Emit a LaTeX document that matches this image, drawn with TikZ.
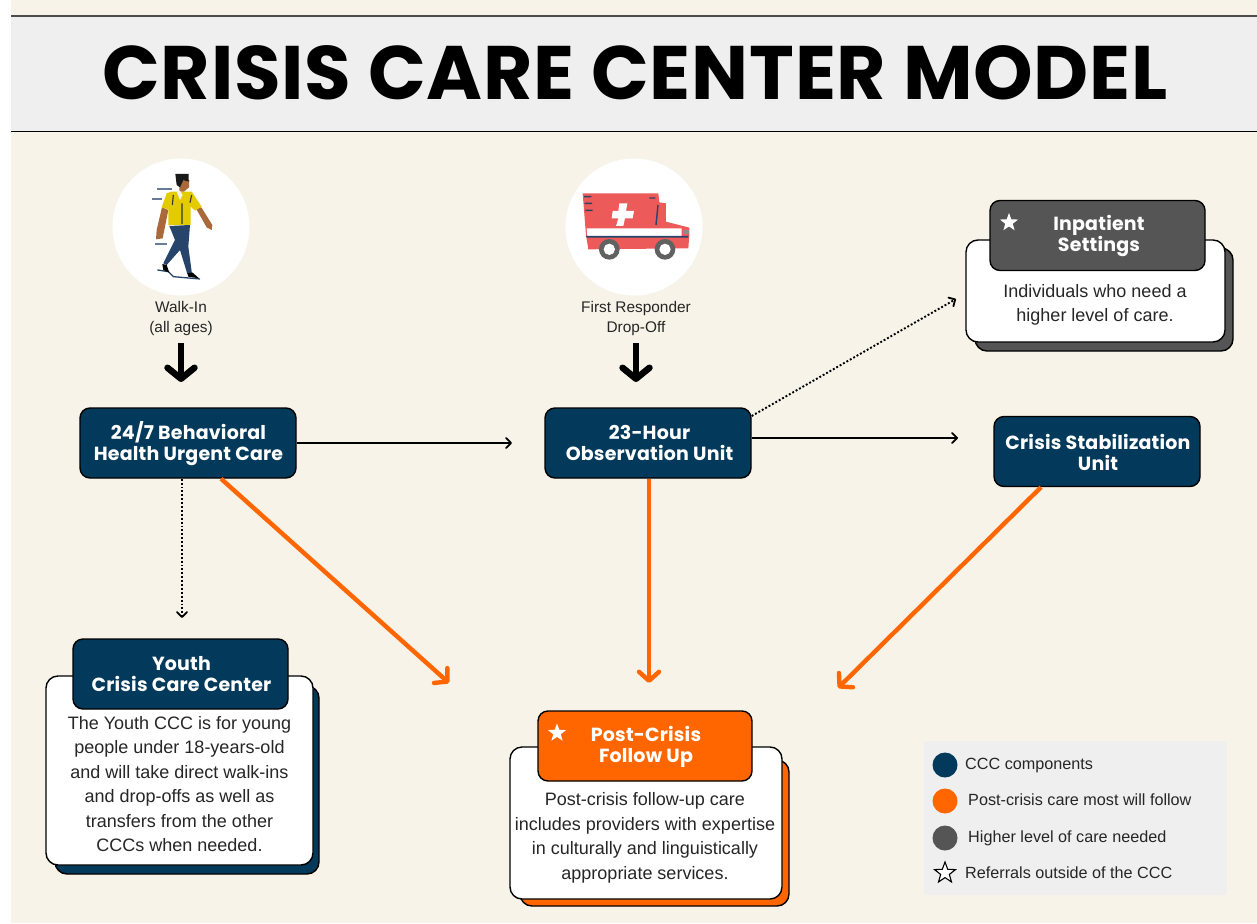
\documentclass[tikz,border=0pt]{standalone}
\usepackage{fontspec}
\setmainfont{Liberation Sans}
\newfontfamily\headfont{Poppins}[LetterSpace=1.0]
\usetikzlibrary{arrows.meta, shapes.geometric}
\definecolor{cream}{HTML}{F7F3E8}
\definecolor{panel}{HTML}{EFEFEF}
\definecolor{navy}{HTML}{03395A}
\definecolor{carrot}{HTML}{FF6600}
\definecolor{slate}{HTML}{555555}
\definecolor{coral}{HTML}{EC5A5A}
\definecolor{shirt}{HTML}{E3CB00}
\definecolor{denim}{HTML}{27446B}
\definecolor{skin}{HTML}{A9693A}
\tikzset{
>={Straight Barb[length=5pt,width=10pt,line width=1.8pt,round]}, % open arrow heads
every node/.style={inner sep=0pt},
headbox/.style={draw=black, line width=1.4pt, rounded corners=10pt, minimum width=#1, minimum height=70pt},
headtext/.style={text=white, align=center, font=\headfont\bfseries\fontsize{19}{21}\selectfont},
cardbox/.style={draw=black, line width=1.4pt, rounded corners=12pt, fill=white, minimum width=#1},
bodytext/.style={align=center, text=black!85, font=\fontsize{18}{24.5}\selectfont},
smalltext/.style={align=center, text=black!85, font=\fontsize{15.4}{20.5}\selectfont},
legendtext/.style={anchor=base west, text=black!85, font=\fontsize{16.2}{18}\selectfont},
legenddot/.style={circle, minimum size=25pt, fill=#1},
starmark/.style={star, star points=5, star point ratio=2.4, minimum size=19pt, fill=white},
plainline/.style={->, line width=1.9pt, black},
dotline/.style={->, line width=1.9pt, black, dash pattern=on 1.9pt off 2pt},
bigline/.style={-{Straight Barb[length=11pt,width=27pt,line width=6.5pt,round]}, line width=6.5pt, black},
careline/.style={-{Straight Barb[length=9pt,width=20pt,line width=4.4pt,round]}, line width=4.4pt, carrot},
}
\begin{document}
\begin{tikzpicture}[x=1pt, y=-1pt]
\useasboundingbox (0,0) rectangle (1257,923);
\fill[white] (0,0) rectangle (1257,923);
\fill[cream] (11,0) rectangle (1257,923);

% title band
\fill[panel] (11,16) rectangle (1257,131);
\draw[line width=1.4pt, black!70] (11,16) -- (1257,16);
\draw[line width=1pt, black] (11,131) -- (1257,131);
\node[font=\headfont\bfseries\fontsize{75.8}{80}\selectfont, text=black] (title) at (635,73) {CRISIS CARE CENTER MODEL};

% intake pictures
\node[circle, fill=white, minimum size=137pt] (walkpic) at (181,227) {};
\node[circle, fill=white, minimum size=137pt] (ambpic) at (634,227) {};

% person walking
\begin{scope}[shift={(100,150)}, x=0.3333pt, y=-0.3333pt]
\draw[denim!70, line width=1.2pt] (172,117) -- (215,117) (155,147) -- (185,147) (165,282) -- (200,282);
\draw[denim, line width=1.3pt] (172,360) -- (205,365) -- (220,380) -- (300,387);
\fill[skin] (186,172) -- (205,180) -- (188,265) -- (168,268) -- (170,240) -- cycle;
\fill[skin] (286,172) -- (304,172) -- (337,225) -- (335,240) -- (320,232) -- cycle;
\fill[denim] (208,228) -- (270,225) -- (265,290) -- (276,372) -- (262,372) -- (240,300) -- (200,345) -- (190,340) -- (225,270) -- cycle;
\fill[black] (187,342) -- (200,345) -- (208,368) -- (190,360) -- cycle;
\fill[black] (262,370) -- (278,368) -- (297,385) -- (265,380) -- cycle;
\fill[shirt] (215,125) -- (275,125) -- (305,170) -- (285,182) -- (272,170) -- (272,225) -- (205,225) -- (205,178) -- (185,172) -- (200,130) -- cycle;
\draw[black!80, line width=1.1pt] (246,160) -- (246,222) (220,135) -- (217,165) (275,135) -- (270,158);
\fill[skin] (232,90) -- (268,90) -- (267,112) -- (252,125) -- (238,125) -- (238,108) -- cycle;
\fill[black!90] (226,72) -- (266,72) -- (266,95) -- (250,90) -- (240,112) -- (230,105) -- cycle;
\fill[cream] (230,125) -- (240,122) -- (248,135) -- (240,150) -- cycle;
\end{scope}

% ambulance
\begin{scope}[shift={(550,150)}, x=0.3333pt, y=-0.3333pt]
\fill[coral] (98,130) -- (325,130) -- (328,157) -- (348,160) -- (348,215) -- (418,233) -- (418,255) -- (415,295) -- (115,298) -- (108,255) -- cycle;
\fill[white] (110,235) -- (395,235) -- (395,258) -- (112,258) -- cycle;
\fill[denim] (108,258) -- (415,258) -- (415,263) -- (110,263) -- cycle;
\fill[white] (208,160) -- (232,160) -- (228,183) -- (252,183) -- (248,205) -- (225,205) -- (220,228) -- (198,228) -- (205,205) -- (185,205) -- (188,183) -- (205,183) -- cycle;
\draw[denim, line width=1.4pt] (102,140) -- (124,140) (104,160) -- (126,160) (106,181) -- (128,181) (298,144) -- (316,144) (324,165) -- (318,225);
\fill[black!62] (178,298) circle (31);
\fill[black!62] (345,298) circle (31);
\fill[white] (178,298) circle (17);
\fill[white] (345,298) circle (17);
\fill[black!45] (398,240) rectangle (418,252);
\end{scope}

\node[smalltext] (walkin) at (181,318.5) {Walk-In\\(all ages)};
\node[smalltext] (dropoff) at (636,318.5) {First Responder\\Drop-Off};

% main boxes
\node[headbox=216pt, fill=navy] (urgent) at (188,443) {};
\node[headtext] (urgenttext) at (188.5,444) {24/7 Behavioral\\Health Urgent Care};
\node[headbox=206pt, fill=navy] (observe) at (648,443) {};
\node[headtext] (observetext) at (649.5,443) {23-Hour\\Observation Unit};
\node[headbox=206pt, fill=navy] (stabil) at (1097,451.5) {};
\node[headtext] (stabiltext) at (1098,452) {Crisis Stabilization\\Unit};

% inpatient card
\node[cardbox=258pt, fill=slate, minimum height=103pt] (inshadow) at (1104,299.5) {};
\node[cardbox=259pt, minimum height=102pt] (incard) at (1095.5,291) {};
\node[headbox=215pt, fill=slate] (inhead) at (1097.5,235.5) {};
\node[headtext] (inheadtext) at (1099,236) {Inpatient\\Settings};
\node[starmark] (instar) at (1009,222.5) {};
\node[bodytext] (intext) at (1095,305) {Individuals who need a\\higher level of care.};

% youth card
\node[cardbox=264pt, fill=navy, minimum height=188pt] (youthshadow) at (187,780) {};
\node[cardbox=267pt, minimum height=189pt] (youthcard) at (179.5,770.5) {};
\node[headbox=215pt, fill=navy] (youthhead) at (180.5,674) {};
\node[headtext] (youthheadtext) at (181.5,674) {Youth\\Crisis Care Center};
\node[bodytext] (youthtext) at (179.5,784) {The Youth CCC is for young\\people under 18-years-old\\and will take direct walk-ins\\and drop-offs as well as\\transfers from the other\\CCCs when needed.};

% follow up card
\node[cardbox=269pt, fill=carrot, minimum height=146pt] (postshadow) at (654.5,833) {};
\node[cardbox=272pt, minimum height=152pt] (postcard) at (646,823) {};
\node[headbox=214pt, fill=carrot] (posthead) at (645,746) {};
\node[headtext] (postheadtext) at (646,747) {Post-Crisis\\Follow Up};
\node[starmark] (poststar) at (557,733) {};
\node[bodytext] (posttext) at (645,838) {Post-crisis follow-up care\\includes providers with expertise\\in culturally and linguistically\\appropriate services.};

% arrow targets
\coordinate (walkfoot) at (181,343);
\coordinate (walkhead) at (181,382);
\coordinate (dropfoot) at (636,343);
\coordinate (drophead) at (636,382);
\coordinate (midstop) at (512,443);
\coordinate (csustop) at (958,438);
\coordinate (instop) at (956,299);
\coordinate (youthstop) at (182,618);
\coordinate (postleft) at (449,683);
\coordinate (postmid) at (649,683);
\coordinate (postright) at (838,688);

\draw[bigline] (walkfoot) -- (walkhead);
\draw[bigline] (dropfoot) -- (drophead);
\draw[plainline] (urgent.east) -- (midstop);
\draw[plainline] ([yshift=5pt]observe.east) -- (csustop);
\draw[dotline] ([yshift=27pt]observe.east) -- (instop);
\draw[dotline] (urgent.south -| youthstop) -- (youthstop);
\draw[careline] ([xshift=33pt]urgent.south) -- (postleft);
\draw[careline] (observe.south -| postmid) -- (postmid);
\draw[careline] ([xshift=-56pt]stabil.south) -- (postright);

% legend
\fill[panel] (924,741) rectangle (1227,895);
\node[legenddot=navy] (keynavy) at (945,765) {};
\node[legenddot=carrot] (keyorange) at (945,801) {};
\node[legenddot=slate] (keygray) at (945,838) {};
\node[starmark, draw=black, line width=1.1pt, minimum size=22pt] (keystar) at (945,873) {};
\node[legendtext] (keytext1) at (965,769) {CCC components};
\node[legendtext] (keytext2) at (968,805) {Post-crisis care most will follow};
\node[legendtext] (keytext3) at (968,842) {Higher level of care needed};
\node[legendtext] (keytext4) at (965,878) {Referrals outside of the CCC};
\end{tikzpicture}
\end{document}
